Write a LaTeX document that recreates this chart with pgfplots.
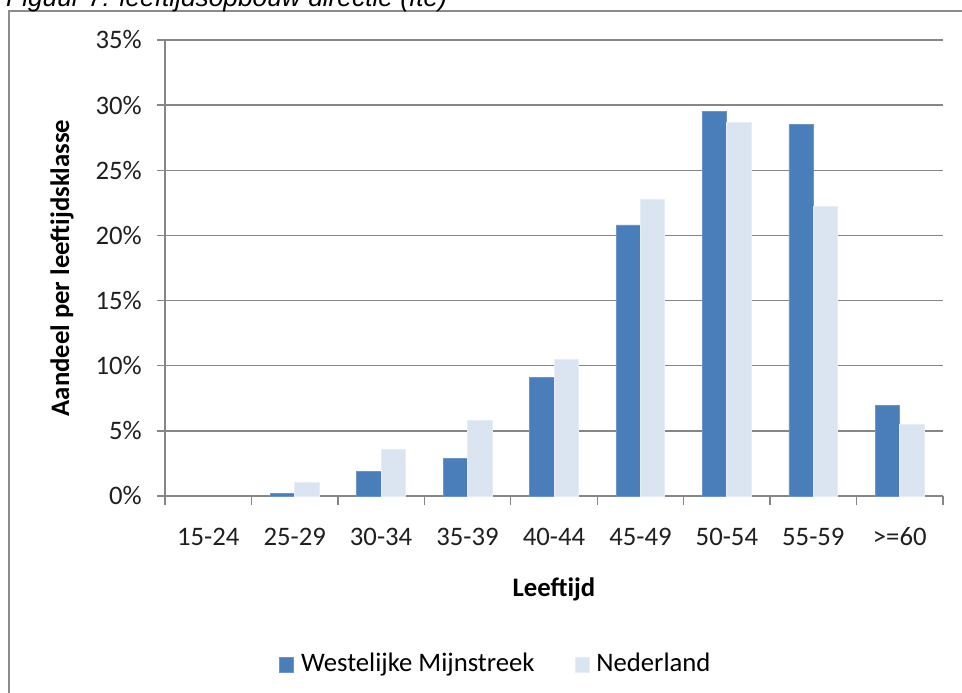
\documentclass[border=0pt]{standalone}
\usepackage{fontspec}
\usepackage{pgfplots}
\pgfplotsset{compat=1.18}
\setmainfont{Carlito}
\newfontfamily\titlefont{Liberation Sans}
\definecolor{serA}{HTML}{4A7EBB}
\definecolor{serAedge}{HTML}{6C95C8}
\definecolor{serB}{HTML}{DBE5F1}
\definecolor{gridc}{RGB}{134,134,134}
\definecolor{framec}{RGB}{140,140,140}
\begin{document}
\begin{tikzpicture}[x=1pt,y=1pt]
\useasboundingbox (0,0) rectangle (962,693);
% outer frame
\draw[framec, line width=2.2pt] (9,-2) -- (9,682) -- (964,682);
% title (partly cut off at top)
\node[anchor=base west, inner sep=0pt, font={\titlefont\itshape\fontsize{26.3}{30}\selectfont}] at (6,686) {Figuur 7: leeftijdsopbouw directie (fte)};
\begin{axis}[
  at={(165pt,197pt)}, anchor=south west,
  scale only axis, width=778pt, height=456pt,
  xmin=-0.5, xmax=8.5, ymin=0, ymax=35,
  ybar=0pt, bar width=24.4pt,
  axis x line*=bottom, axis y line*=left,
  axis line style={gridc, line width=1.3pt, -},
  every tick/.style={gridc, line width=1.3pt},
  tick align=outside,
  xtick={0,...,8},
  xticklabels={15-24,25-29,30-34,35-39,40-44,45-49,50-54,55-59,>=60},
  major x tick style={draw=none},
  minor xtick={-0.5,0.5,...,8.5},
  minor tick length=9pt,
  major tick length=8pt,
  ytick={0,5,...,35},
  yticklabel={\pgfmathprintnumber{\tick}\%},
  /pgf/number format/assume math mode=true,
  ymajorgrids, grid style={gridc, line width=1.3pt},
  tick label style={font=\fontsize{26.7}{31}\selectfont, text=black!88},
  xticklabel style={anchor=base, inner sep=0pt, yshift=-42pt},
  yticklabel style={anchor=east, inner sep=0pt, xshift=-15pt},
  xlabel={Leeftijd},
  ylabel={Aandeel per leeftijdsklasse},
  label style={font=\bfseries\fontsize{26.7}{31}\selectfont},
  xlabel style={at={(axis description cs:0.5,0)}, anchor=base, inner sep=0pt, yshift=-101pt},
  ylabel style={at={(axis description cs:0,0.5)}, anchor=center, inner sep=0pt, yshift=103pt},
  legend columns=2,
  legend style={at={(0.424,-0.366)}, anchor=center, draw=none, fill=none,
    font=\fontsize{26.7}{31}\selectfont, column sep=0pt,
    nodes={inner sep=0pt, anchor=base west}},
  legend image code/.code={\draw[#1] (0pt,-1pt) rectangle (14pt,14pt);},
  clip=false,
]
\addplot[fill=serA, draw=serAedge, line width=0.8pt] coordinates {
 (1,0.18) (2,1.85) (3,2.9) (4,9.1) (5,20.8) (6,29.5) (7,28.5) (8,6.95)};
\addlegendentry{\rule{7pt}{0pt}Westelijke Mijnstreek\rule{40pt}{0pt}}
\addplot[fill=serB, draw=serB!70!white, line width=0.8pt] coordinates {
 (1,1.07) (2,3.6) (3,5.8) (4,10.5) (5,22.8) (6,28.7) (7,22.2) (8,5.5)};
\addlegendentry{\rule{7pt}{0pt}Nederland}
\end{axis}
\end{tikzpicture}
\end{document}
